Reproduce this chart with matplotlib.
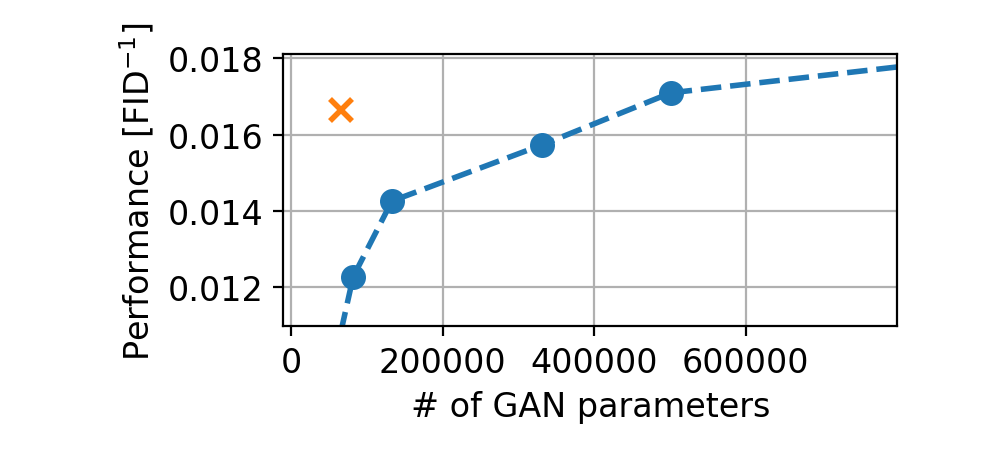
import numpy as np
import matplotlib.pyplot as plt

plt.rcParams['font.size'] = 12

# GAN size vs performance (points outside the limits give the line ends)
params = [40000, 81700, 132800, 331200, 501000, 1000000]
perf = [0.00858, 0.01228, 0.01426, 0.01573, 0.01709, 0.01822]

# single reference model
ref_params = [65600]
ref_perf = [0.01665]

fig = plt.figure(figsize=(4.985, 2.32), dpi=200)
ax = fig.add_axes([0.284, 0.295, 0.616, 0.586])
ax.plot(params, perf, 'o--', color='tab:blue', lw=2, markersize=8)
ax.plot(ref_params, ref_perf, 'x', color='tab:orange', markersize=8, mew=2)
ax.set_xlim(-10750, 800000)
ax.set_ylim(0.01099, 0.0181)
ax.set_yticks([0.012, 0.014, 0.016, 0.018])
ax.set_xticks([0, 200000, 400000, 600000])
ax.ticklabel_format(style='plain', useOffset=False)
ax.set_xlabel('# of GAN parameters')
ax.set_ylabel('Performance [FID$^{-1}$]')
ax.grid(True)
fig.savefig('out.png', dpi=200)
